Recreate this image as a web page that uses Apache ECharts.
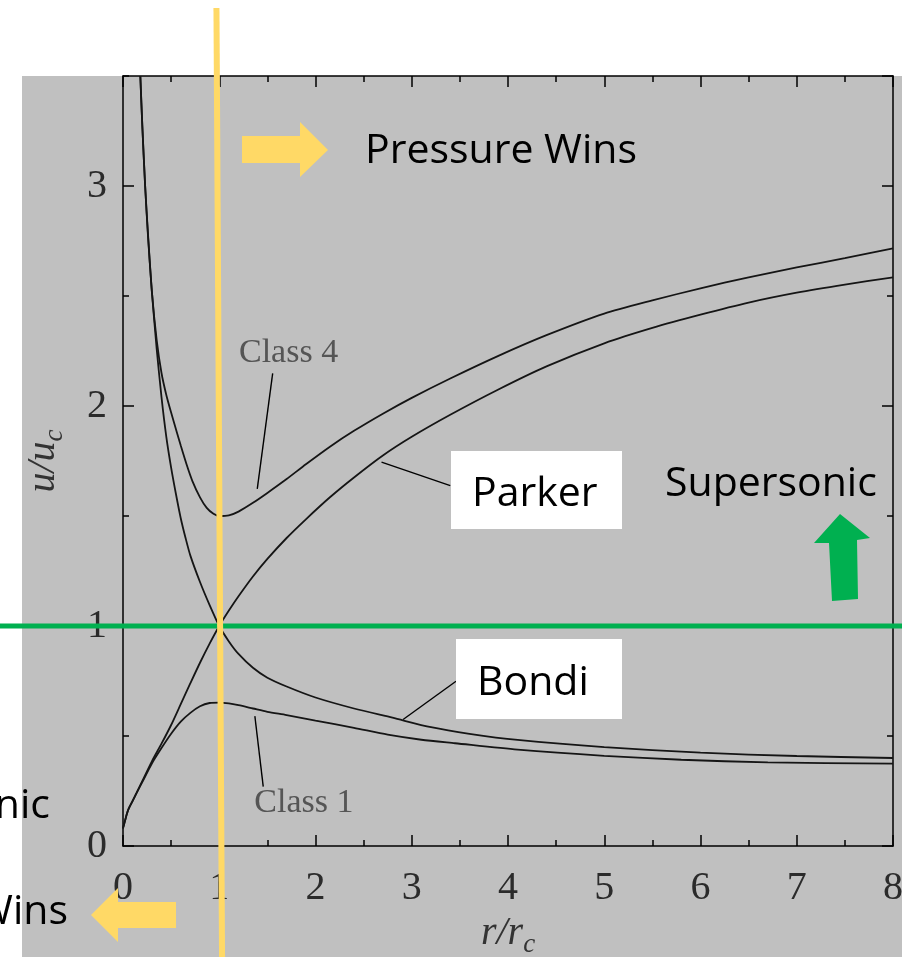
<!DOCTYPE html>
<html><head><meta charset="utf-8">
<script src="https://cdn.jsdelivr.net/npm/echarts@6/dist/echarts.min.js"></script>
<style>html,body{margin:0;padding:0;background:#fff}#c{width:902px;height:957px}</style>
</head><body><div id="c"></div>
<script>
// ---- data (r/r_c, u/u_c) ----
const xTickValues = [0, 1, 2, 3, 4, 5, 6, 7, 8];
const yTickValues = [0, 1, 2, 3];
const parker = [[0,0.08],[0.03,0.13],[0.055,0.165],[0.1,0.205],[0.14,0.24],[0.2,0.295],[0.3,0.385],[0.4,0.465],[0.5,0.55],[0.6,0.645],[0.7,0.74],[0.8,0.833],[0.9,0.92],[1.0,1.0],[1.1,1.07],[1.2,1.135],[1.35,1.225],[1.5,1.305],[1.7,1.4],[1.9,1.485],[2.15,1.585],[2.4,1.675],[2.7,1.775],[3.0,1.86],[3.4,1.96],[3.9,2.075],[4.4,2.18],[5.0,2.285],[5.5,2.355],[6.0,2.415],[6.5,2.47],[7.0,2.515],[7.5,2.552],[8.0,2.585]];
const bondi = [[0.18,3.5],[0.2,3.28],[0.23,3.0],[0.26,2.77],[0.3,2.52],[0.35,2.26],[0.4,2.04],[0.45,1.86],[0.5,1.72],[0.55,1.6],[0.6,1.49],[0.65,1.4],[0.7,1.32],[0.8,1.2],[0.9,1.095],[1.0,1.0],[1.1,0.93],[1.2,0.873],[1.35,0.81],[1.5,0.765],[1.7,0.725],[2.0,0.675],[2.4,0.625],[2.8,0.583],[3.2,0.54],[3.6,0.51],[4.1,0.482],[5.0,0.449],[6.0,0.424],[7.0,0.409],[8.0,0.4]];
const class1 = [[0,0.08],[0.03,0.13],[0.055,0.165],[0.1,0.205],[0.14,0.24],[0.2,0.29],[0.3,0.375],[0.4,0.445],[0.5,0.51],[0.6,0.565],[0.7,0.605],[0.8,0.635],[0.9,0.65],[1.0,0.652],[1.1,0.648],[1.2,0.64],[1.35,0.625],[1.5,0.61],[1.7,0.595],[2.0,0.57],[2.4,0.537],[2.75,0.506],[3.1,0.483],[3.45,0.467],[4.1,0.438],[5.0,0.41],[5.8,0.392],[6.7,0.38],[8.0,0.374]];
const class4 = [[0.18,3.5],[0.2,3.28],[0.23,3.0],[0.26,2.78],[0.3,2.52],[0.35,2.3],[0.4,2.15],[0.45,2.05],[0.5,1.97],[0.56,1.88],[0.6,1.82],[0.66,1.735],[0.72,1.66],[0.8,1.585],[0.87,1.537],[0.94,1.51],[1.0,1.5],[1.1,1.503],[1.2,1.52],[1.35,1.56],[1.5,1.605],[1.7,1.668],[1.9,1.735],[2.15,1.815],[2.4,1.887],[2.7,1.965],[3.0,2.037],[3.4,2.125],[3.9,2.228],[4.4,2.322],[5.0,2.42],[5.5,2.48],[6.0,2.535],[6.5,2.585],[7.0,2.63],[7.5,2.672],[8.0,2.716]];
// annotation arrows (from -> to) in data space
const arrowFrom = [[1.555,2.148],[1.457,0.27],[3.40,1.638],[3.46,0.749]];
const arrowTo   = [[1.395,1.623],[1.37,0.59],[2.686,1.745],[2.91,0.575]];
const classLabels = ['Class 4', 'Class 1'];
const classLabelAt = [[1.72,2.24],[1.88,0.194]];

const chart = echarts.init(document.getElementById('c'), null, {renderer:'canvas'});
const serif = 'Liberation Serif';
const axisCol = '#000';
const richName = {
  i:{fontFamily:serif, fontStyle:'italic', fontSize:40, color:'#333', lineHeight:50},
  s:{fontFamily:serif, fontStyle:'italic', fontSize:27, color:'#333', lineHeight:22, verticalAlign:'bottom'}
};
function xAx(pos, labels){
  return {type:'value', position:pos, min:0, max:8, interval:1,
    axisLine:{show:true, onZero:false, lineStyle:{color:axisCol, width:1.5}},
    axisTick:{show:true, inside:true, length:11, lineStyle:{color:axisCol, width:1.5}},
    minorTick:{show:true, splitNumber:2, length:6, lineStyle:{color:axisCol, width:1.5}},
    splitLine:{show:false}, minorSplitLine:{show:false},
    axisLabel:{show:labels, margin:22, fontFamily:serif, fontSize:40, color:'#2b2b2b',
      formatter:v => xTickValues.includes(v) ? String(v) : ''},
    name: labels ? '{i|r/r}{s|c}' : '', nameLocation:'middle', nameGap:62, nameMoveOverlap:false,
    nameTextStyle:{rich:richName}
  };
}
function yAx(pos, major, labels){
  return {type:'value', position:pos, min:0, max:3.5, interval: major ? 1 : 0.5,
    axisLine:{show:major, onZero:false, lineStyle:{color:axisCol, width:1.5}},
    axisTick:{show:true, inside:true, length: major ? 11 : 6, lineStyle:{color:axisCol, width:1.5}},
    splitLine:{show:false},
    axisLabel:{show:labels, margin:16, fontFamily:serif, fontSize:40, color:'#2b2b2b', showMaxLabel:false,
      formatter:v => yTickValues.includes(v) ? String(v) : ''},
    name: labels ? '{i|u/u}{s|c}' : '', nameLocation:'middle', nameGap:55, nameMoveOverlap:false,
    nameTextStyle:{rich:richName}
  };
}
const curveStyle = {color:'#151515', width:1.8};
function curve(name, data){
  return {type:'line', name, data, xAxisIndex:0, yAxisIndex:0, symbol:'none', smooth:0.25,
    lineStyle:curveStyle, silent:true, z:3};
}
chart.setOption({
  animation:false,
  backgroundColor:'transparent',
  grid:{left:123, right:9, top:76, bottom:111, containLabel:false, outerBoundsMode:'none'},
  xAxis:[xAx('bottom', true), xAx('top', false)],
  yAxis:[yAx('left', true, true), yAx('left', false, false), yAx('right', true, false), yAx('right', false, false)],
  series:[
    curve('Parker', parker), curve('Bondi', bondi), curve('Class 1', class1), curve('Class 4', class4),
    {type:'line', data:[], xAxisIndex:0, yAxisIndex:0, silent:true,
      markLine:{silent:true, symbol:['none','arrow'], symbolSize:[0,11], label:{show:false},
        lineStyle:{color:'#000', width:1.4, type:'solid'}, emphasis:{disabled:true},
        data: arrowFrom.map((f,i)=>[{coord:f},{coord:arrowTo[i]}])}}
  ]
});

const one = chart.convertToPixel({xAxisIndex:0, yAxisIndex:0}, [1, 1]);
const gfx = [];
// gray figure background
gfx.push({type:'rect', z:-100, silent:true, shape:{x:22, y:76, width:880, height:881}, style:{fill:'#c0c0c0'}});
classLabels.forEach((t,i)=>{
  const p = chart.convertToPixel({xAxisIndex:0, yAxisIndex:0}, classLabelAt[i]);
  gfx.push({type:'text', z:50, silent:true, x:p[0], y:p[1], style:{text:t, fontFamily:serif, fontSize:34, fill:'#555', align:'center', verticalAlign:'middle'}});
});
const sans = 'Open Sans';
// green sonic line and yellow critical-radius line
gfx.push({type:'line', z:100, silent:true, shape:{x1:0, y1:one[1], x2:902, y2:one[1]}, style:{stroke:'#00b050', lineWidth:5}});
gfx.push({type:'line', z:101, silent:true, shape:{x1:one[0]-2.8, y1:8, x2:one[0]+2.8, y2:957}, style:{stroke:'#ffd966', lineWidth:6}});
// yellow arrows
gfx.push({type:'polygon', z:100, silent:true, shape:{points:[[242,136],[300,136],[300,122],[328,150],[300,177],[300,163],[242,163]]}, style:{fill:'#ffd966'}});
gfx.push({type:'polygon', z:100, silent:true, shape:{points:[[91,915],[118,888],[118,902],[176,902],[176,928],[118,928],[118,942]]}, style:{fill:'#ffd966'}});
// green arrow
gfx.push({type:'polygon', z:100, silent:true, shape:{points:[[840,514],[870,538],[857,540],[858,599],[832,601],[829,543],[814,543]]}, style:{fill:'#00b050'}});
// white label boxes
gfx.push({type:'rect', z:100, silent:true, shape:{x:451, y:451, width:171, height:78}, style:{fill:'#fff'}});
gfx.push({type:'rect', z:100, silent:true, shape:{x:456, y:639, width:166, height:80}, style:{fill:'#fff'}});
function txt(t, x, baseline, align){
  gfx.push({type:'text', z:110, silent:true, x, y: baseline - 31, style:{text:t, fontFamily:sans, fontSize:41, fill:'#000', align, verticalAlign:'top'}});
}
txt('Pressure Wins', 365, 162, 'left');
txt('Parker', 472, 505, 'left');
txt('Bondi', 477, 694, 'left');
txt('Supersonic', 665, 495, 'left');
txt('Subsonic', 50, 817, 'right');
txt('Gravity Wins', 68, 923, 'right');
chart.setOption({graphic:{elements:gfx}});
</script></body></html>
